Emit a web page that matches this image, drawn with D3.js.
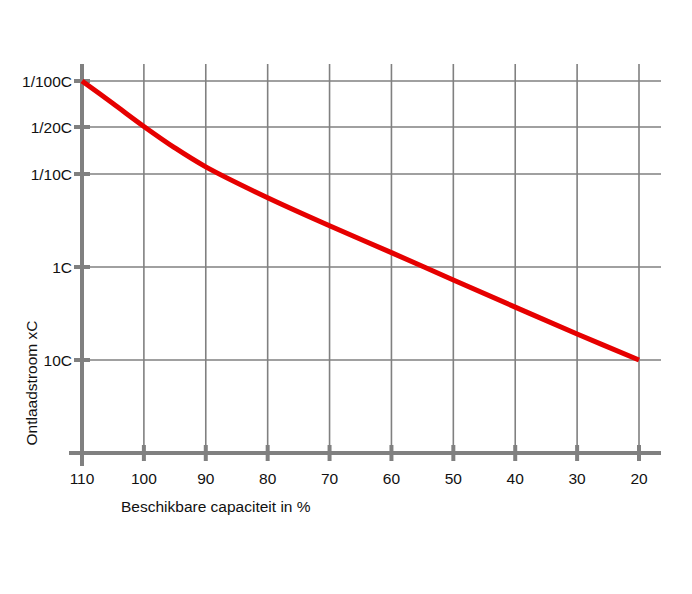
<!DOCTYPE html>
<html>
<head>
<meta charset="utf-8">
<script src="https://cdn.jsdelivr.net/npm/d3@7"></script>
<style>
  body { margin: 0; background: #fff; }
  text { font-family: "Liberation Sans", Arial, sans-serif; fill: #111; }
</style>
</head>
<body>
<div id="chart"></div>
<script>
// capacity (%) on x, discharge current (multiple of C) on y
var capacity = [110, 105, 100, 95, 90, 80, 70, 60, 50, 40, 30, 20];
var current = [0.01, 0.022, 0.049, 0.068, 0.09, 0.18, 0.36, 0.7, 1.38, 2.7, 5.25, 10];

var xTicks = [110, 100, 90, 80, 70, 60, 50, 40, 30, 20];
var yTicks = [0.01, 0.05, 0.1, 1, 10];
var yTickLabels = ["1/100C", "1/20C", "1/10C", "1C", "10C"];

var width = 692, height = 594;
var plotLeft = 82, plotRight = 639, plotTop = 64, plotBottom = 453;

var svg = d3.select("#chart")
    .append("svg")
    .attr("width", width)
    .attr("height", height);

svg.append("rect")
    .attr("width", width)
    .attr("height", height)
    .attr("fill", "#fff");

var x = d3.scaleLinear()
    .domain([110, 20])
    .range([plotLeft, plotRight]);

// the axis is log-like, but the 1/20C step is drawn halfway between 1/100C and 1/10C
var yLevel = d3.scaleLinear()
    .domain([-2, Math.log10(0.05), -1, 0, 1, 2])
    .range([81, 127, 174, 267, 360, plotBottom]);
function y(v) { return yLevel(Math.log10(v)); }

var gray = "#808080";

// grid
svg.append("g")
    .selectAll("line")
    .data(xTicks.slice(1))
    .enter().append("line")
    .attr("x1", function (d) { return x(d); })
    .attr("x2", function (d) { return x(d); })
    .attr("y1", plotTop)
    .attr("y2", plotBottom)
    .attr("stroke", gray)
    .attr("stroke-width", 1.6);

svg.append("g")
    .selectAll("line")
    .data(yTicks)
    .enter().append("line")
    .attr("x1", plotLeft)
    .attr("x2", 661)
    .attr("y1", function (d) { return y(d); })
    .attr("y2", function (d) { return y(d); })
    .attr("stroke", gray)
    .attr("stroke-width", 1.6);

// axes
svg.append("line")
    .attr("x1", 69).attr("x2", 661)
    .attr("y1", plotBottom).attr("y2", plotBottom)
    .attr("stroke", gray).attr("stroke-width", 4);

svg.append("line")
    .attr("x1", plotLeft).attr("x2", plotLeft)
    .attr("y1", plotTop).attr("y2", 466)
    .attr("stroke", gray).attr("stroke-width", 4);

// x ticks
svg.append("g")
    .selectAll("line")
    .data(xTicks)
    .enter().append("line")
    .attr("x1", function (d) { return x(d); })
    .attr("x2", function (d) { return x(d); })
    .attr("y1", plotBottom - 8)
    .attr("y2", plotBottom + 8)
    .attr("stroke", gray)
    .attr("stroke-width", 4);

svg.append("g")
    .selectAll("text")
    .data(xTicks)
    .enter().append("text")
    .attr("x", function (d) { return x(d); })
    .attr("y", 484)
    .attr("text-anchor", "middle")
    .style("font-size", "15.5px")
    .text(function (d) { return d; });

// y ticks
svg.append("g")
    .selectAll("line")
    .data(yTicks)
    .enter().append("line")
    .attr("x1", plotLeft - 8)
    .attr("x2", plotLeft + 8)
    .attr("y1", function (d) { return y(d); })
    .attr("y2", function (d) { return y(d); })
    .attr("stroke", gray)
    .attr("stroke-width", 4);

svg.append("g")
    .selectAll("text")
    .data(yTicks)
    .enter().append("text")
    .attr("x", 72)
    .attr("y", function (d) { return y(d); })
    .attr("dy", "0.36em")
    .attr("text-anchor", "end")
    .style("font-size", "15.5px")
    .text(function (d, i) { return yTickLabels[i]; });

// axis titles
svg.append("text")
    .attr("x", 121)
    .attr("y", 512)
    .style("font-size", "15.5px")
    .text("Beschikbare capaciteit in %");

svg.append("text")
    .attr("transform", "translate(37,383) rotate(-90)")
    .attr("text-anchor", "middle")
    .style("font-size", "15.5px")
    .text("Ontlaadstroom xC");

// curve
var line = d3.line()
    .x(function (d, i) { return x(capacity[i]); })
    .y(function (d) { return y(d); })
    .curve(d3.curveCatmullRom.alpha(0.5));

svg.append("path")
    .datum(current)
    .attr("d", line)
    .attr("fill", "none")
    .attr("stroke", "#e60000")
    .attr("stroke-width", 5);
</script>
</body>
</html>
